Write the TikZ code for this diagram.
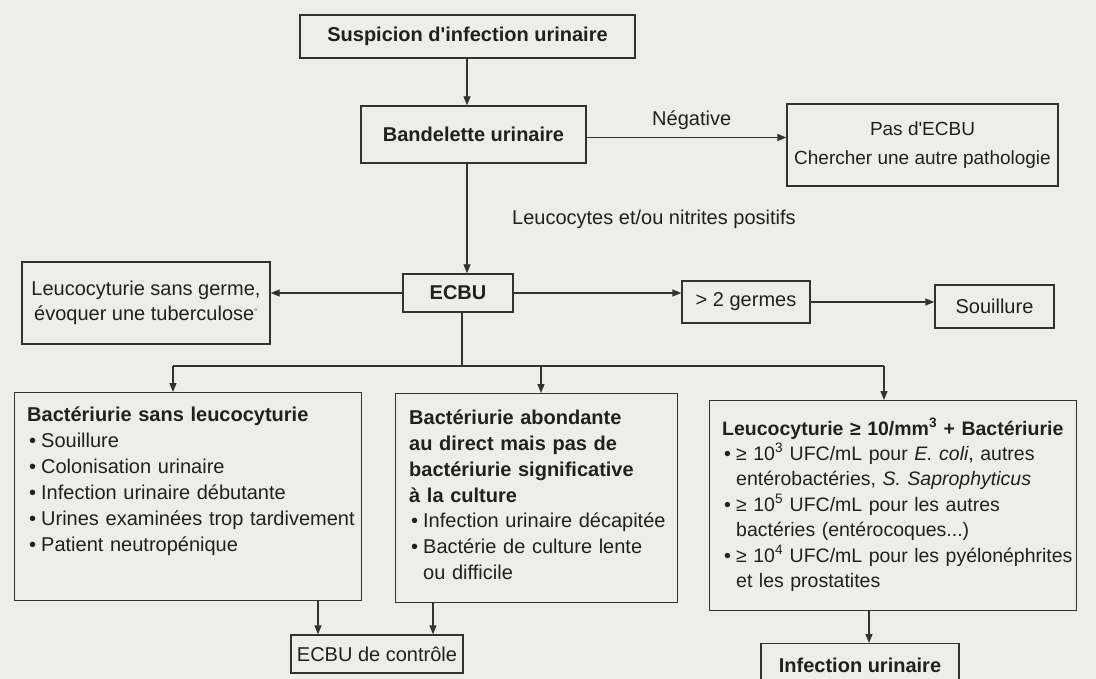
\documentclass[tikz,border=0pt]{standalone}
\usepackage{fontspec}
\setmainfont{Liberation Sans}
\usetikzlibrary{arrows.meta,calc}
\definecolor{bgc}{RGB}{237,237,234}
\definecolor{linec}{RGB}{50,50,50}
\definecolor{txtc}{RGB}{32,32,32}
\newcommand\itm[1][14pt]{\par\hangindent=#1\hangafter=1\noindent\makebox[#1][l]{\hspace{2pt}•}}
\begin{document}
\begin{tikzpicture}[x=1pt,y=-1pt,
  cbox/.style={draw=linec,line width=1.3pt,inner sep=0pt,text=txtc,align=center,
    font=\fontsize{20}{26}\selectfont},
  bigbox/.style={draw=linec,line width=1.3pt,inner sep=0pt,anchor=north west},
  lbl/.style={text=txtc,inner sep=0pt,font=\fontsize{20}{26}\selectfont},
  arr/.style={draw=linec,line width=1.3pt,-{Triangle[length=9pt,width=7pt]}},
  ln/.style={draw=linec,line width=1.3pt},
]
\fill[bgc] (0,0) rectangle (1096,679);
\useasboundingbox (0,0) rectangle (1096,679);
\clip (0,0) rectangle (1096,679);

% top
\node[cbox,minimum width=335,minimum height=43] (susp) at (467.5,36.5)
  {\textbf{Suspicion d\textquotesingle infection urinaire}};
\node[cbox,minimum width=225,minimum height=57] (band) at (473.5,134.5)
  {\textbf{Bandelette urinaire}};
\node[cbox,minimum width=271,minimum height=82,font=\fontsize{19}{29}\selectfont] (pas) at (922.5,145)
  {Pas d\textquotesingle ECBU\\Chercher une autre pathologie};
\node[lbl,anchor=base west] (neg) at (652,126) {Négative};
\node[lbl,anchor=base west] (leuco) at (512,225) {Leucocytes et/ou nitrites positifs};

% middle row
\node[cbox,minimum width=110,minimum height=38] (ecbu) at (458,293) {\textbf{ECBU}};
\node[cbox,minimum width=248,minimum height=82,font=\fontsize{20}{25}\selectfont] (lsg) at (146,303)
  {Leucocyturie sans germe,\\évoquer une tuberculose{\color{gray}\raisebox{6pt}{\fontsize{9}{9}\selectfont *}}};
\node[cbox,minimum width=128,minimum height=42] (germes) at (746,302) {> 2 germes};
\node[cbox,minimum width=119,minimum height=43] (souil) at (994.5,306.5) {Souillure};

% bottom boxes
\node[bigbox,minimum width=347,minimum height=208] (lbox) at (14,392) {};
\node[bigbox,minimum width=282,minimum height=209] (mbox) at (395,393) {};
\node[bigbox,minimum width=367,minimum height=210] (rbox) at (709,400) {};

\node[lbl,text width=340,align=left,anchor=base west] (ltx) at ($(lbox.north west)+(13,29)$)
  {\textbf{Bactériurie sans leucocyturie}
   \itm Souillure
   \itm Colonisation urinaire
   \itm Infection urinaire débutante
   \itm Urines examinées trop tardivement
   \itm Patient neutropénique\par};
\node[lbl,text width=275,align=left,anchor=base west] (mtx) at ($(mbox.north west)+(14,31)$)
  {\textbf{Bactériurie abondante\newline au direct mais pas de\newline bactériurie significative\newline à la culture}
   \itm Infection urinaire décapitée
   \itm Bactérie de culture lente\newline ou difficile\par};
\node[lbl,text width=362,align=left,anchor=base west,font=\fontsize{19.5}{25.5}\selectfont] (rtx) at ($(rbox.north west)+(13,35)$)
  {\textbf{Leucocyturie ≥ 10/mm\textsuperscript{3} + Bactériurie}
   \itm ≥ 10\textsuperscript{3} UFC/mL pour \textit{E. coli}, autres\newline entérobactéries, \textit{S. Saprophyticus}
   \itm ≥ 10\textsuperscript{5} UFC/mL pour les autres\newline bactéries (entérocoques...)
   \itm ≥ 10\textsuperscript{4} UFC/mL pour les pyélonéphrites\newline et les prostatites\par};

\node[cbox,minimum width=172,minimum height=38] (ctrl) at (377,654) {ECBU de contrôle};
\node[cbox,minimum width=198,minimum height=44,anchor=north] (inf) at (860,643) {\textbf{Infection urinaire}};

% connectors
\coordinate (mx) at (467,0);
\draw[arr] (susp.south -| mx) -- (band.north -| mx);
\draw[arr] (band.south -| mx) -- (ecbu.north -| mx);
\draw[arr] ($(band.east)+(0,3)$) -- ($(band.east -| pas.west)+(0,3)$);
\draw[arr] (ecbu.west) -- (ecbu.west -| lsg.east);
\draw[arr] (ecbu.east) -- (ecbu.east -| germes.west);
\draw[arr] (germes.east) -- (germes.east -| souil.west);

\coordinate (bx) at (462,366);
\coordinate (bl) at (173,366);
\coordinate (bm) at (541,366);
\coordinate (br) at (884,366);
\draw[ln] (ecbu.south -| bx) -- (bx);
\draw[ln] (bl) -- (br);
\draw[arr] (bl) -- (bl |- lbox.north);
\draw[arr] (bm) -- (bm |- mbox.north);
\draw[arr] (br) -- (br |- rbox.north);

\coordinate (c1) at (318,0);
\coordinate (c2) at (433,0);
\coordinate (c3) at (869,0);
\draw[arr] (lbox.south -| c1) -- (ctrl.north -| c1);
\draw[arr] (mbox.south -| c2) -- (ctrl.north -| c2);
\draw[arr] (rbox.south -| c3) -- (inf.north -| c3);
\end{tikzpicture}
\end{document}
